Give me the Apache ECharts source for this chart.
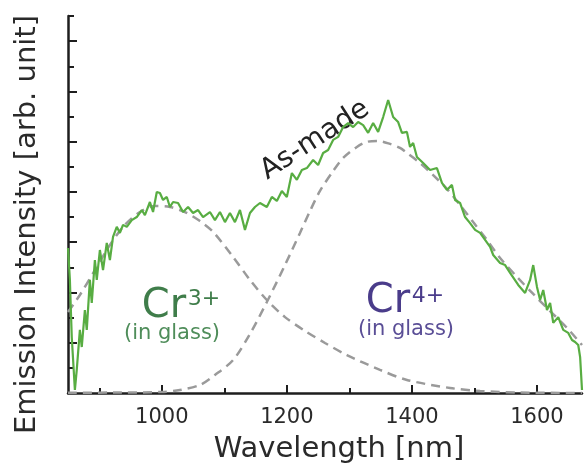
<!DOCTYPE html>
<html>
<head>
<meta charset="utf-8">
<script src="https://cdn.jsdelivr.net/npm/echarts@6/dist/echarts.min.js"></script>
<style>html,body{margin:0;padding:0;background:#fff}#c{width:587px;height:464px}</style>
</head>
<body>
<div id="c"></div>
<script>
// ---- data ----
const waveAsMade = [850,853,856,861,864,869,872,877,880,885,888,893,896,901,906,912,917,922,928,933,938,944,952,960,968,973,981,986,992,997,1002,1008,1013,1018,1026,1034,1042,1050,1058,1066,1077,1085,1093,1101,1109,1117,1125,1133,1141,1149,1157,1168,1176,1184,1192,1200,1208,1216,1224,1232,1242,1250,1258,1266,1274,1282,1290,1298,1306,1314,1322,1330,1338,1346,1354,1362,1370,1378,1384,1392,1397,1402,1408,1418,1429,1440,1448,1456,1464,1469,1477,1485,1493,1501,1509,1517,1525,1530,1541,1549,1557,1570,1581,1589,1594,1600,1605,1610,1616,1621,1626,1634,1642,1650,1656,1661,1666,1669,1672];
const intAsMade = [5.77,4.50,2.23,0.12,0.92,2.51,1.83,3.30,2.51,4.50,3.58,5.29,4.50,5.69,4.89,5.97,5.29,6.21,6.61,6.37,6.69,6.61,6.88,7.00,7.28,7.08,7.60,7.20,8.00,7.96,7.68,7.80,7.40,7.60,7.56,7.20,7.40,7.16,7.28,7.00,7.20,6.88,7.20,6.80,7.16,6.80,7.28,6.49,7.16,7.40,7.56,7.40,7.80,7.64,8.04,7.80,8.75,8.48,8.87,8.95,9.27,9.07,9.55,9.67,10.07,10.19,10.58,10.74,10.58,10.78,10.66,10.35,10.74,10.39,10.98,11.66,10.98,10.78,10.35,10.39,9.79,9.95,9.39,9.15,8.87,8.95,8.36,8.08,8.28,7.68,7.56,7.00,6.76,6.49,6.37,6.09,5.81,5.49,5.17,5.09,4.78,4.30,3.98,4.50,5.09,4.22,3.70,4.10,3.30,3.58,2.79,3.02,2.51,2.39,2.11,2.03,1.91,1.43,0.12];

const waveCr3 = [850,869,893,917,941,965,989,1013,1037,1061,1082,1114,1141,1168,1197,1229,1261,1296,1349,1392,1461,1509,1573,1672];
const intCr3  = [3.22,3.90,4.89,5.89,6.69,7.20,7.44,7.40,7.20,6.84,6.41,5.41,4.50,3.70,3.02,2.47,1.99,1.51,0.92,0.52,0.20,0.08,0.02,0.0];

const waveCr4 = [850,933,1000,1029,1061,1085,1114,1141,1168,1197,1221,1237,1253,1274,1290,1312,1328,1344,1365,1381,1392,1413,1434,1456,1477,1498,1520,1541,1568,1594,1621,1648,1672];
const intCr4  = [0.01,0.02,0.04,0.12,0.32,0.72,1.31,2.35,3.62,5.09,6.37,7.24,8.04,8.83,9.35,9.79,9.99,10.03,9.91,9.75,9.55,9.15,8.67,8.12,7.48,6.80,6.09,5.37,4.62,3.94,3.26,2.59,1.91];

const xMajorTicks = [1000,1200,1400,1600];
const xMinorTicks = [900,1100,1300,1500];
const yMajorTicks = [2,4,6,8,10,12,14];
const yMinorTicks = [1,3,5,7,9,11,13,15];

const zip = (a,b) => a.map((v,i) => [v,b[i]]);
const FONT = 'DejaVu Sans';
const AX = '#1e1e1e';

const chart = echarts.init(document.getElementById('c'), null, {renderer:'canvas'});
chart.setOption({
  animation:false,
  backgroundColor:'#fff',
  grid:{left:68, right:5, top:16, bottom:71, containLabel:false, outerBoundsMode:'none'},
  xAxis:[{
    type:'value', min:850, max:1672,
    axisLine:{show:true, onZero:false, lineStyle:{color:AX, width:2.5}},
    axisTick:{show:true, inside:true, length:8, customValues:xMajorTicks, lineStyle:{color:AX, width:2}},
    axisLabel:{show:true, customValues:xMajorTicks, formatter:v => String(v), fontSize:21, fontFamily:FONT, color:'#2a2a2a', margin:14},
    splitLine:{show:false},
    name:'Wavelength [nm]', nameLocation:'middle', nameGap:42,
    nameTextStyle:{fontSize:29, fontFamily:FONT, color:'#2a2a2a', padding:[0,0,0,28]}
  },{
    type:'value', min:850, max:1672, position:'bottom',
    axisLine:{show:false},
    axisTick:{show:true, inside:true, length:5, customValues:xMinorTicks, lineStyle:{color:AX, width:2}},
    axisLabel:{show:false}, splitLine:{show:false}
  }],
  yAxis:[{
    type:'value', min:0, max:15,
    axisLine:{show:true, onZero:false, lineStyle:{color:AX, width:2.5}},
    axisTick:{show:true, inside:true, length:9, customValues:yMajorTicks, lineStyle:{color:AX, width:2}},
    axisLabel:{show:false}, splitLine:{show:false},
    name:'Emission Intensity [arb. unit]', nameLocation:'middle', nameGap:26,
    nameTextStyle:{fontSize:29, fontFamily:FONT, color:'#2a2a2a', padding:[0,40,0,0]}
  },{
    type:'value', min:0, max:15, position:'left',
    axisLine:{show:false},
    axisTick:{show:true, inside:true, length:6, customValues:yMinorTicks, lineStyle:{color:AX, width:2}},
    axisLabel:{show:false}, splitLine:{show:false}
  }],
  series:[
    {type:'line', name:'Cr3+', data:zip(waveCr3,intCr3), smooth:0.3, showSymbol:false,
     lineStyle:{color:'#9a9a9a', width:2.5, type:[9,6]}, z:2},
    {type:'line', name:'Cr4+', data:zip(waveCr4,intCr4), smooth:0.3, showSymbol:false,
     lineStyle:{color:'#9a9a9a', width:2.5, type:[9,6]}, z:2},
    {type:'line', name:'As-made', data:zip(waveAsMade,intAsMade), showSymbol:false,
     lineStyle:{color:'#58ad42', width:2.2}, z:3}
  ],
  graphic:[
    {type:'text', x:315, y:140, rotation:33*Math.PI/180,
     style:{text:'As-made', fontSize:28, fontFamily:FONT, fill:'#222', align:'center', verticalAlign:'middle'}},
    {type:'text', x:164, y:307, style:{text:'Cr', fontSize:40, fontFamily:FONT, fill:'#3f7d4a', align:'center', verticalAlign:'middle'}},
    {type:'text', x:204, y:299, style:{text:'3+', fontSize:22, fontFamily:FONT, fill:'#3f7d4a', align:'center', verticalAlign:'middle'}},
    {type:'text', x:172, y:334, style:{text:'(in glass)', fontSize:21, fontFamily:FONT, fill:'#4f8d5a', align:'center', verticalAlign:'middle'}},
    {type:'text', x:388, y:302, style:{text:'Cr', fontSize:40, fontFamily:FONT, fill:'#4a3c8a', align:'center', verticalAlign:'middle'}},
    {type:'text', x:428, y:296, style:{text:'4+', fontSize:22, fontFamily:FONT, fill:'#4a3c8a', align:'center', verticalAlign:'middle'}},
    {type:'text', x:406, y:330, style:{text:'(in glass)', fontSize:21, fontFamily:FONT, fill:'#5a4e96', align:'center', verticalAlign:'middle'}}
  ]
});
</script>
</body>
</html>
